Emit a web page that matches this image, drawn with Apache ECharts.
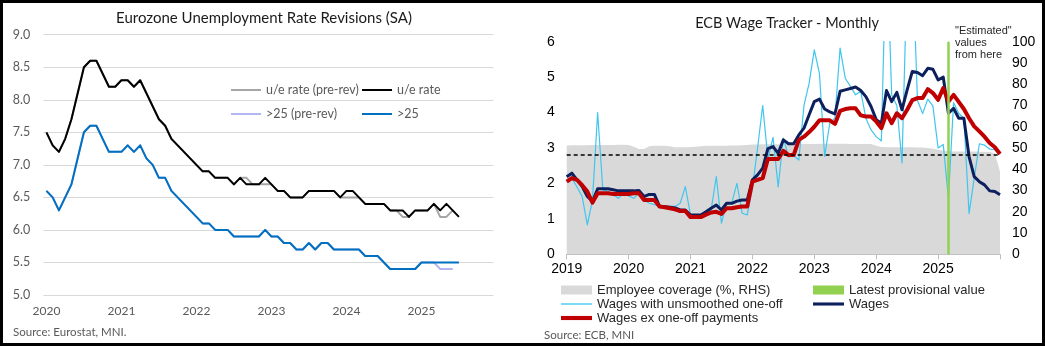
<!DOCTYPE html>
<html><head><meta charset="utf-8">
<script src="https://cdn.jsdelivr.net/npm/echarts@6/dist/echarts.min.js"></script>
<style>
html,body{margin:0;padding:0;background:#fff;}
#wrap{position:relative;width:1045px;height:346px;overflow:hidden;}
#chart{position:absolute;left:0;top:0;width:1045px;height:346px;}
#frame{position:absolute;left:0;top:0;width:1045px;height:346px;box-sizing:border-box;border:3px solid #000;pointer-events:none;}
</style></head><body>
<div id="wrap"><div id="chart"></div><div id="frame"></div></div>
<script>
// ---------- DATA ----------
const monthNames = ['Jan','Feb','Mar','Apr','May','Jun','Jul','Aug','Sep','Oct','Nov','Dec'];
// Left chart: Eurozone unemployment (monthly, Jan 2020 - Dec 2025 axis)
const leftYears = [2020, 2021, 2022, 2023, 2024, 2025];
const ueRate = [7.5,7.3,7.2,7.4,7.7,8.1,8.5,8.6,8.6,8.4,8.2,8.2,
  8.3,8.3,8.2,8.3,8.1,7.9,7.7,7.6,7.4,7.3,7.2,7.1,
  7.0,6.9,6.9,6.8,6.8,6.8,6.7,6.8,6.7,6.7,6.7,6.8,
  6.7,6.6,6.6,6.5,6.5,6.5,6.6,6.6,6.6,6.6,6.6,6.5,
  6.6,6.6,6.5,6.4,6.4,6.4,6.4,6.3,6.3,6.3,6.2,6.3,
  6.3,6.3,6.4,6.3,6.4,6.3,6.2];
const ueRatePre = [7.5,7.3,7.2,7.4,7.7,8.1,8.5,8.6,8.6,8.4,8.2,8.2,
  8.3,8.3,8.2,8.3,8.1,7.9,7.7,7.6,7.4,7.3,7.2,7.1,
  7.0,6.9,6.9,6.8,6.8,6.8,6.7,6.8,6.8,6.7,6.7,6.7,
  6.7,6.6,6.6,6.5,6.5,6.5,6.6,6.6,6.6,6.6,6.6,6.5,
  6.5,6.5,6.5,6.4,6.4,6.4,6.4,6.3,6.3,6.2,6.2,6.3,
  6.3,6.3,6.4,6.2,6.2,6.3];
const over25 = [6.6,6.5,6.3,6.5,6.7,7.1,7.5,7.6,7.6,7.4,7.2,7.2,
  7.2,7.3,7.2,7.3,7.1,7.0,6.8,6.8,6.6,6.5,6.4,6.3,
  6.2,6.1,6.1,6.0,6.0,6.0,5.9,5.9,5.9,5.9,5.9,6.0,
  5.9,5.9,5.8,5.8,5.7,5.7,5.8,5.7,5.8,5.8,5.7,5.7,
  5.7,5.7,5.7,5.6,5.6,5.6,5.5,5.4,5.4,5.4,5.4,5.4,
  5.5,5.5,5.5,5.5,5.5,5.5,5.5];
const over25Pre = [6.6,6.5,6.3,6.5,6.7,7.1,7.5,7.6,7.6,7.4,7.2,7.2,
  7.2,7.3,7.2,7.3,7.1,7.0,6.8,6.8,6.6,6.5,6.4,6.3,
  6.2,6.1,6.1,6.0,6.0,6.0,5.9,5.9,5.9,5.9,5.9,6.0,
  5.9,5.9,5.8,5.8,5.7,5.7,5.8,5.7,5.8,5.8,5.7,5.7,
  5.7,5.7,5.7,5.6,5.6,5.6,5.5,5.4,5.4,5.4,5.4,5.4,
  5.5,5.5,5.5,5.4,5.4,5.4];
const leftYTicks = [5.0, 9.0, 0.5]; // min, max, step

// Right chart: ECB wage tracker (monthly, Jan 2019 - Jan 2026)
const rightYears = [2019, 2020, 2021, 2022, 2023, 2024, 2025];
const rightEndMonth = 'Jan 2026';
const coverage = [51.2,51.3,51.3,51.3,51.3,51.4,51.4,51.4,51.4,51.4,51.5,51.5,
  51.4,50.6,49.5,49.5,50.8,51.0,51.0,51.0,50.8,50.4,50.3,50.3,
  50.5,50.6,50.8,51.0,51.0,51.1,51.1,51.1,51.2,51.2,51.3,51.4,
  51.6,51.7,51.8,51.8,51.8,51.8,51.8,51.8,51.8,51.8,51.9,51.9,
  51.9,52.0,52.0,52.0,52.0,52.0,52.0,51.9,51.9,51.9,51.9,51.9,
  51.0,50.5,50.4,50.4,50.4,50.4,50.4,50.3,50.2,50.2,50.0,49.6,
  49.2,48.8,48.5,48.4,48.4,48.4,48.3,48.3,48.2,48.2,48.1,47.5,39.0];
const wagesUnsmoothed = [2.05,2.15,1.9,1.63,0.83,1.53,4.0,1.82,1.78,1.68,1.58,1.72,
  1.65,1.58,1.72,1.53,1.44,1.4,1.35,1.35,1.35,1.35,1.44,1.91,
  1.11,1.11,1.06,1.2,1.25,2.19,0.88,1.44,1.45,2.0,1.16,1.11,
  1.86,3.0,4.2,2.7,3.3,1.9,3.28,2.75,2.78,2.66,4.2,4.83,
  5.77,5.1,2.76,3.7,3.85,5.82,4.97,4.74,4.5,4.6,3.84,3.51,
  3.32,3.2,9.0,4.5,4.2,2.58,8.0,8.5,4.35,3.97,4.38,4.18,
  3.0,3.1,1.57,4.28,3.98,3.84,1.15,2.15,3.12,3.08,2.97,2.95,2.83];
const wages = [2.19,2.29,2.1,1.91,1.63,1.49,1.85,1.85,1.85,1.82,1.79,1.79,
  1.79,1.79,1.8,1.63,1.69,1.69,1.35,1.34,1.33,1.31,1.25,1.25,
  1.11,1.11,1.11,1.2,1.3,1.39,1.25,1.44,1.44,1.5,1.53,1.53,
  2.1,2.24,2.43,2.98,3.04,2.85,3.23,3.12,3.12,3.37,3.56,3.94,
  4.31,4.38,4.1,4.02,3.96,4.6,4.64,4.68,4.72,4.62,4.45,4.17,
  3.8,3.7,4.62,4.31,4.57,4.08,4.64,5.16,5.13,5.04,5.25,5.22,
  4.92,5.0,3.98,4.12,3.84,3.84,2.76,2.19,2.05,1.96,1.79,1.77,1.68];
const wagesExOneOff = [2.05,2.15,2.1,1.95,1.77,1.46,1.72,1.72,1.72,1.7,1.7,1.7,
  1.7,1.72,1.72,1.53,1.53,1.53,1.35,1.33,1.3,1.27,1.22,1.22,
  1.05,1.05,1.05,1.12,1.18,1.2,1.14,1.3,1.3,1.33,1.35,1.35,
  2.05,2.1,2.15,2.69,2.69,2.69,2.92,2.8,2.8,3.23,3.32,3.45,
  3.6,3.78,3.78,3.78,3.68,4.05,4.1,4.12,4.12,3.92,3.89,3.89,
  3.75,3.56,3.98,3.7,3.98,3.84,4.08,4.35,4.41,4.41,4.66,4.55,
  4.36,4.69,4.31,4.5,4.3,4.1,3.84,3.61,3.47,3.32,3.14,3.02,2.83];
const provisionalMonth = 'Mar 2025';
const referenceLevel = 2.8;
const rightLeftTicks = [0, 6, 1];
const rightRightTicks = [0, 100, 10];

// ---------- BUILD ----------
const leftCats = [];
leftYears.forEach(y => monthNames.forEach(m => leftCats.push(m + ' ' + y)));
const rightCats = [];
rightYears.forEach(y => monthNames.forEach(m => rightCats.push(m + ' ' + y)));
rightCats.push(rightEndMonth);

const LF = 'Lato';
const AF = 'Liberation Sans';
const grey = '#595959';
// legend line icons (aspect kept -> thin bars)
const lineIcon = (t) => 'path://M0,0H30V' + t + 'H0Z';

const chart = echarts.init(document.getElementById('chart'), null, {renderer: 'canvas'});
const lineBase = {type: 'line', symbol: 'none', showSymbol: false, smooth: false, animation: false};

const option = {
  backgroundColor: '#fff',
  animation: false,
  grid: [
    {left: 43.3, right: 551.7, top: 34.7, bottom: 51, outerBoundsMode: 'none', containLabel: false},
    {left: 566.7, right: 45, top: 41.7, bottom: 91.7, outerBoundsMode: 'none', containLabel: false}
  ],
  xAxis: [
    {type: 'category', gridIndex: 0, data: leftCats, boundaryGap: true,
     axisLine: {show: false}, axisTick: {show: false}, splitLine: {show: false},
     axisLabel: {interval: (i) => i % 12 === 0, formatter: v => v.slice(-4), color: grey,
       fontFamily: LF, fontSize: 12, margin: 10, hideOverlap: false}},
    {type: 'category', gridIndex: 1, data: rightCats, boundaryGap: false,
     axisLine: {show: true, lineStyle: {color: '#bfbfbf', width: 1}},
     axisTick: {show: true, interval: (i) => i % 12 === 0, length: 5, lineStyle: {color: '#bfbfbf'}},
     splitLine: {show: false},
     axisLabel: {interval: (i) => i % 12 === 0 && i < rightCats.length - 1, formatter: v => v.slice(-4),
       color: '#000', fontFamily: AF, fontSize: 14, margin: 8, hideOverlap: false}}
  ],
  yAxis: [
    {type: 'value', gridIndex: 0, min: leftYTicks[0], max: leftYTicks[1], interval: leftYTicks[2],
     axisLine: {show: false}, axisTick: {show: false},
     splitLine: {show: true, lineStyle: {color: '#d9d9d9', width: 1.2}},
     axisLabel: {formatter: v => v.toFixed(1), color: grey, fontFamily: LF, fontSize: 12.5, margin: 13}},
    {type: 'value', gridIndex: 1, position: 'left', min: rightLeftTicks[0], max: rightLeftTicks[1], interval: rightLeftTicks[2],
     axisLine: {show: false}, axisTick: {show: false}, splitLine: {show: false},
     axisLabel: {color: '#000', fontFamily: AF, fontSize: 14, margin: 12}},
    {type: 'value', gridIndex: 1, position: 'right', min: rightRightTicks[0], max: rightRightTicks[1], interval: rightRightTicks[2],
     axisLine: {show: false}, axisTick: {show: false}, splitLine: {show: false},
     axisLabel: {color: '#000', fontFamily: AF, fontSize: 14, margin: 12}}
  ],
  legend: [
    {left: 226, top: 78, orient: 'vertical', itemGap: 10, itemWidth: 30, itemHeight: 14,
     data: [{name: 'u/e rate (pre-rev)', icon: lineIcon(2)}, {name: '>25 (pre-rev)', icon: lineIcon(2)}],
     textStyle: {fontFamily: LF, fontSize: 12.5, color: grey, lineHeight: 14}},
    {left: 357, top: 78, orient: 'vertical', itemGap: 10, itemWidth: 30, itemHeight: 14,
     data: [{name: 'u/e rate', icon: lineIcon(2)}, {name: '>25', icon: lineIcon(2)}],
     textStyle: {fontFamily: LF, fontSize: 12.5, color: grey, lineHeight: 14}},
    {left: 556, top: 278, orient: 'vertical', itemGap: 0, itemWidth: 31, itemHeight: 9,
     data: [{name: 'Employee coverage (%, RHS)', icon: 'rect'},
            {name: 'Wages with unsmoothed one-off', icon: lineIcon(1.3)},
            {name: 'Wages ex one-off payments', icon: lineIcon(4)}],
     textStyle: {fontFamily: AF, fontSize: 13, color: '#262626', lineHeight: 14}},
    {left: 808, top: 278, orient: 'vertical', itemGap: 0, itemWidth: 31, itemHeight: 9,
     data: [{name: 'Latest provisional value', icon: 'rect'}, {name: 'Wages', icon: lineIcon(3)}],
     textStyle: {fontFamily: AF, fontSize: 13, color: '#262626', lineHeight: 14}}
  ],
  series: [
    Object.assign({}, lineBase, {name: 'u/e rate (pre-rev)', xAxisIndex: 0, yAxisIndex: 0, data: ueRatePre,
      color: '#a6a6a6', lineStyle: {color: '#a6a6a6', width: 2, join: 'round'}}),
    Object.assign({}, lineBase, {name: '>25 (pre-rev)', xAxisIndex: 0, yAxisIndex: 0, data: over25Pre,
      color: '#b4b6f2', lineStyle: {color: '#b4b6f2', width: 2, join: 'round'}}),
    Object.assign({}, lineBase, {name: 'u/e rate', xAxisIndex: 0, yAxisIndex: 0, data: ueRate,
      color: '#000000', lineStyle: {color: '#000000', width: 2, join: 'round'}}),
    Object.assign({}, lineBase, {name: '>25', xAxisIndex: 0, yAxisIndex: 0, data: over25,
      color: '#0070c0', lineStyle: {color: '#0070c0', width: 2, join: 'round'}}),

    Object.assign({}, lineBase, {name: 'Employee coverage (%, RHS)', xAxisIndex: 1, yAxisIndex: 2, data: coverage,
      color: '#d9d9d9', lineStyle: {width: 0, color: '#d9d9d9'}, areaStyle: {color: '#d9d9d9', opacity: 1}}),
    Object.assign({}, lineBase, {name: 'Wages with unsmoothed one-off', xAxisIndex: 1, yAxisIndex: 1, data: wagesUnsmoothed,
      color: '#3fc6ef', lineStyle: {color: '#3fc6ef', width: 1.2, join: 'round'},
      markLine: {silent: true, symbol: ['none', 'none'], label: {show: false}, animation: false,
        lineStyle: {color: '#000', width: 1.5, type: [4, 3]}, data: [{yAxis: referenceLevel}]}}),
    Object.assign({}, lineBase, {name: 'Wages', xAxisIndex: 1, yAxisIndex: 1, data: wages,
      color: '#0d1f5c', lineStyle: {color: '#0d1f5c', width: 3, join: 'round'}}),
    Object.assign({}, lineBase, {name: 'Wages ex one-off payments', xAxisIndex: 1, yAxisIndex: 1, data: wagesExOneOff,
      color: '#c00000', lineStyle: {color: '#c00000', width: 4, join: 'round'}}),
    Object.assign({}, lineBase, {name: 'Latest provisional value', xAxisIndex: 1, yAxisIndex: 1, data: [],
      color: '#92d050', lineStyle: {color: '#92d050', width: 2.5},
      markLine: {silent: true, symbol: ['none', 'none'], label: {show: false}, animation: false,
        lineStyle: {color: '#92d050', width: 2.5, type: 'solid'}, data: [{xAxis: provisionalMonth}]}})
  ],
  graphic: [
    {type: 'text', x: 264, y: 18, style: {text: 'Eurozone Unemployment Rate Revisions (SA)', font: '15px Lato', fill: '#1a1a1a', align: 'center', verticalAlign: 'middle'}},
    {type: 'text', x: 787, y: 23, style: {text: 'ECB Wage Tracker - Monthly', font: '14.5px Lato', fill: '#1a1a1a', align: 'center', verticalAlign: 'middle'}},
    {type: 'text', x: 13, y: 332, style: {text: 'Source: Eurostat, MNI.', font: '11.5px Lato', fill: grey, align: 'left', verticalAlign: 'middle'}},
    {type: 'text', x: 544, y: 335, style: {text: 'Source: ECB, MNI', font: '11.5px Lato', fill: grey, align: 'left', verticalAlign: 'middle'}},
    {type: 'text', x: 955, y: 24.5, style: {text: '"Estimated"\nvalues\nfrom here', font: '11px "Liberation Sans"', lineHeight: 12, fill: '#262626', align: 'left', verticalAlign: 'top'}}
  ]
};
chart.setOption(option);
</script>
</body></html>
